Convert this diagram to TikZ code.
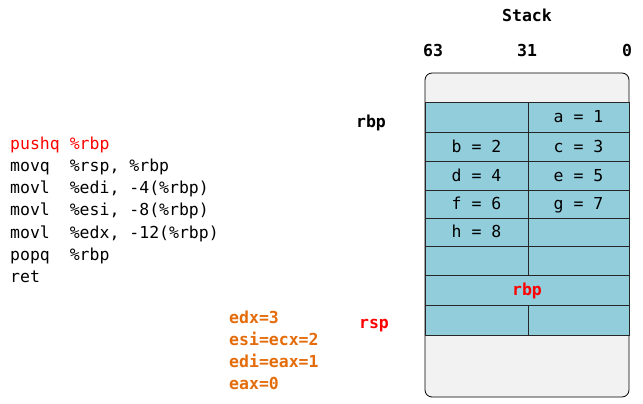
\documentclass[tikz,border=0pt]{standalone}
\usepackage{fontspec}
\newfontfamily\mono{DejaVu Sans Mono}
\usetikzlibrary{positioning}
\definecolor{cellblue}{HTML}{92CDDC}
\definecolor{stackgray}{HTML}{F2F2F2}
\definecolor{codeorange}{HTML}{E46C0A}
\definecolor{codered}{HTML}{FF0000}
\begin{document}
\begin{tikzpicture}[x=1pt,y=-1pt,
  every node/.style={font=\mono\fontsize{16.5}{20}\selectfont, inner sep=0pt},
  codeline/.style={anchor=base west},
  hdr/.style={anchor=base, font=\mono\bfseries\fontsize{16.5}{20}\selectfont},
  orng/.style={anchor=base west, text=codeorange, font=\mono\bfseries\fontsize{16.5}{20}\selectfont},
  cell/.style={draw=black!85, line width=0.8pt, fill=cellblue, minimum height=#1, text height=11.5pt, text depth=0pt},
]
\useasboundingbox (0,0) rectangle (643,404);
% stack outline
\node[draw=black, line width=0.8pt, fill=stackgray, rounded corners=7pt, minimum width=204pt, minimum height=324pt] (stack) at (527,235) {};
% cells
\node[cell=30pt, minimum width=103pt] (l1) at (476.5,117) {};
\node[cell=30pt, minimum width=101pt] (r1) at (578.5,117) {a = 1};
\node[cell=29pt, minimum width=103pt] (l2) at (476.5,146.5) {b = 2};
\node[cell=29pt, minimum width=101pt] (r2) at (578.5,146.5) {c = 3};
\node[cell=29pt, minimum width=103pt] (l3) at (476.5,175.5) {d = 4};
\node[cell=29pt, minimum width=101pt] (r3) at (578.5,175.5) {e = 5};
\node[cell=28pt, minimum width=103pt] (l4) at (476.5,204) {f = 6};
\node[cell=28pt, minimum width=101pt] (r4) at (578.5,204) {g = 7};
\node[cell=28pt, minimum width=103pt] (l5) at (476.5,232) {h = 8};
\node[cell=28pt, minimum width=101pt] (r5) at (578.5,232) {};
\node[cell=29pt, minimum width=103pt] (l6) at (476.5,260.5) {};
\node[cell=29pt, minimum width=101pt] (r6) at (578.5,260.5) {};
\node[cell=30pt, minimum width=204pt, text=codered, font=\mono\bfseries\fontsize{16.5}{20}\selectfont] (bp) at (527,290) {rbp};
\node[cell=30pt, minimum width=103pt] (l8) at (476.5,320) {};
\node[cell=30pt, minimum width=101pt] (r8) at (578.5,320) {};
% headers
\node[hdr] (title) at (527,22) {Stack};
\node[hdr] (b63) at (433,57) {63};
\node[hdr] (b31) at (527,57) {31};
\node[hdr] (b0) at (627,57) {0};
\node[hdr] (rbplbl) at (371,127) {rbp};
\node[hdr, text=codered] (rsplbl) at (374,328) {rsp};
% code
\node[codeline, text=codered] (c1) at (10,149) {pushq \%rbp};
\node[codeline] (c2) at (10,171.3) {movq~~\%rsp, \%rbp};
\node[codeline] (c3) at (10,193.6) {movl~~\%edi, -4(\%rbp)};
\node[codeline] (c4) at (10,215.9) {movl~~\%esi, -8(\%rbp)};
\node[codeline] (c5) at (10,238.2) {movl~~\%edx, -12(\%rbp)};
\node[codeline] (c6) at (10,260.5) {popq~~\%rbp};
\node[codeline] (c7) at (10,282.8) {ret};
% register values
\node[orng] (o1) at (229,323) {edx=3};
\node[orng] (o2) at (229,345) {esi=ecx=2};
\node[orng] (o3) at (229,367) {edi=eax=1};
\node[orng] (o4) at (229,389) {eax=0};
\end{tikzpicture}
\end{document}
